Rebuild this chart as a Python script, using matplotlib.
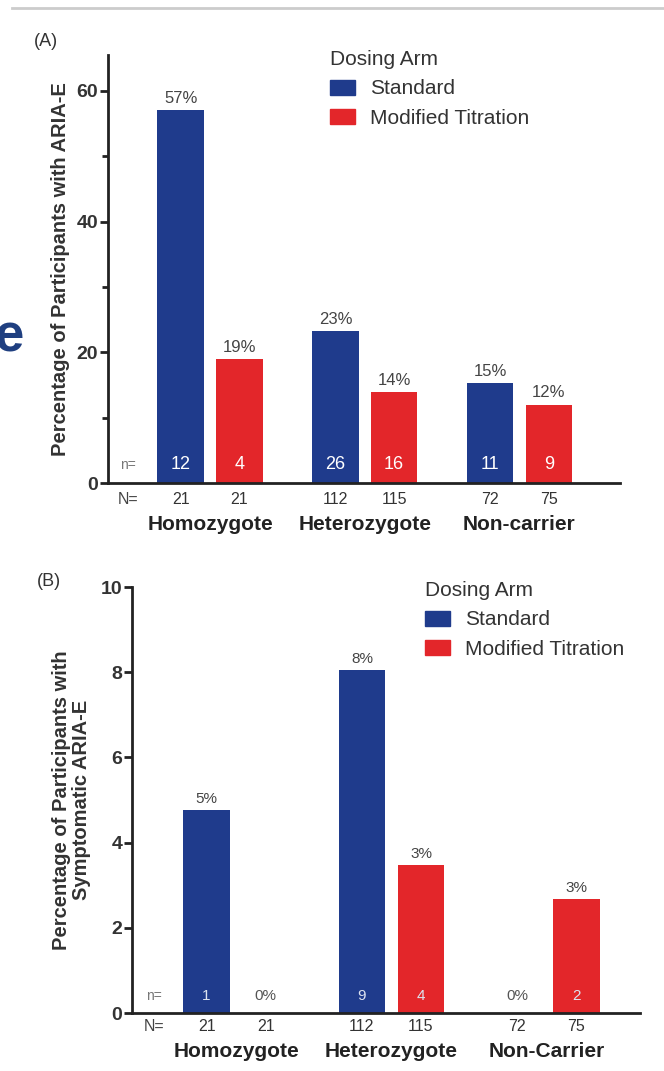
import matplotlib
matplotlib.use("Agg")
import matplotlib.pyplot as plt
from matplotlib.patches import Patch
import numpy as np

plt.rcParams['font.family'] = ['Liberation Sans', 'DejaVu Sans']

arms = ['Standard', 'Modified Titration']
colors = ['#1f3b8c', '#e3262a']

# panel A - any ARIA-E
cats_a = ['Homozygote', 'Heterozygote', 'Non-carrier']
std_a = [57.1, 23.2, 15.3]
mod_a = [19.0, 13.9, 12.0]
pct_std_a = ['57%', '23%', '15%']
pct_mod_a = ['19%', '14%', '12%']
n_std_a = ['12', '26', '11']
n_mod_a = ['4', '16', '9']
N_std_a = ['21', '112', '72']
N_mod_a = ['21', '115', '75']

# panel B - symptomatic ARIA-E
cats_b = ['Homozygote', 'Heterozygote', 'Non-Carrier']
std_b = [4.76, 8.04, 0.0]
mod_b = [0.0, 3.48, 2.67]
pct_std_b = ['5%', '8%', '0%']
pct_mod_b = ['0%', '3%', '3%']
n_std_b = ['1', '9', '']
n_mod_b = ['', '4', '2']
N_std_b = ['21', '112', '72']
N_mod_b = ['21', '115', '75']

W, H = 664, 1071
fig = plt.figure(figsize=(W / 100, H / 100), dpi=100)


def box(l, r, t, b):
    return [l / W, 1 - b / H, (r - l) / W, (b - t) / H]


def panel(ax, cats, std, mod, pct_s, pct_m, n_s, n_m, N_s, N_m, ylim, yticks,
          xlim, pctsize, nsize, ncol, Nsize, catpad, npos, Npos):
    x = np.arange(len(cats))
    off, w = 0.19, 0.30
    ax.bar(x - off, std, w, color=colors[0])
    ax.bar(x + off, mod, w, color=colors[1])
    ax.set_xlim(*xlim)
    ax.set_ylim(*ylim)
    ax.set_yticks(yticks)
    for s in ['top', 'right']:
        ax.spines[s].set_visible(False)
    for s in ['left', 'bottom']:
        ax.spines[s].set_linewidth(2)
        ax.spines[s].set_color('#222222')
    ax.tick_params(axis='y', width=2, length=6, color='#222222',
                   labelsize=14, labelcolor='#333333', pad=1)
    for lab in ax.get_yticklabels():
        lab.set_fontweight('bold')
    ax.set_xticks(x)
    ax.set_xticklabels(cats, fontsize=15, fontweight='bold', color='#222222')
    ax.tick_params(axis='x', length=0, pad=catpad)

    for xs, vals, pcts, ns, Ns in [(x - off, std, pct_s, n_s, N_s),
                                   (x + off, mod, pct_m, n_m, N_m)]:
        for xi, v, p, nn, NN in zip(xs, vals, pcts, ns, Ns):
            if v > 0:
                ax.annotate(p, (xi, v), xytext=(0, 3), textcoords='offset points',
                            ha='center', va='bottom', fontsize=pctsize, color='#444444')
                ax.annotate(nn, (xi, 0), xytext=(0, npos), textcoords='offset points',
                            ha='center', va='center', fontsize=nsize, color=ncol)
            else:
                ax.annotate(p, (xi, 0), xytext=(0, npos), textcoords='offset points',
                            ha='center', va='center', fontsize=pctsize, color='#555555')
            ax.annotate(NN, (xi, 0), xytext=(0, Npos), textcoords='offset points',
                        ha='center', va='center', fontsize=Nsize, color='#333333')
    ax.annotate('n=', (-0.53, 0), xytext=(0, npos), textcoords='offset points',
                ha='center', va='center', fontsize=10, color='#777777')
    ax.annotate('N=', (-0.53, 0), xytext=(0, Npos), textcoords='offset points',
                ha='center', va='center', fontsize=Nsize, color='#444444')


axA = fig.add_axes(box(108, 620, 55, 483))
panel(axA, cats_a, std_a, mod_a, pct_std_a, pct_mod_a, n_std_a, n_mod_a,
      N_std_a, N_mod_a, (0, 65.5), [0, 20, 40, 60], (-0.66, 2.65),
      12, 13, 'white', 11.5, 23, 13, -12)
axA.set_yticks([10, 30, 50], minor=True)
axA.tick_params(axis='y', which='minor', width=2, length=4, color='#222222')
axA.set_ylabel('Percentage of Participants with ARIA-E', fontsize=14.5,
               fontweight='bold', color='#333333', labelpad=5)

axB = fig.add_axes(box(132, 640, 587, 1013))
panel(axB, cats_b, std_b, mod_b, pct_std_b, pct_mod_b, n_std_b, n_mod_b,
      N_std_b, N_mod_b, (0, 10), [0, 2, 4, 6, 8, 10], (-0.67, 2.6),
      11, 11, '#dde3f0', 11.5, 21, 12, -10)
axB.set_ylabel('Percentage of Participants with\nSymptomatic ARIA-E', fontsize=14.5,
               fontweight='bold', color='#333333', labelpad=7, linespacing=1.05)

handles = [Patch(color=colors[0], label=arms[0]), Patch(color=colors[1], label=arms[1])]
for bx, by in [(330, 50), (425, 581)]:
    lg = fig.legend(handles=handles, title='Dosing Arm', loc='upper left',
                    bbox_to_anchor=(bx / W, 1 - by / H), frameon=False,
                    fontsize=15, title_fontsize=15, handlelength=1.2,
                    handleheight=0.75, handletextpad=0.7, labelspacing=0.5,
                    borderpad=0, borderaxespad=0, alignment='left')
    for t in lg.get_texts():
        t.set_color('#333333')
    lg.get_title().set_color('#333333')

fig.text(34 / W, 1 - 42 / H, '(A)', fontsize=13, color='#333333', va='center')
fig.text(37 / W, 1 - 582 / H, '(B)', fontsize=13, color='#333333', va='center')

# slide remnants: top rule and a clipped letter at the left edge
fig.add_artist(plt.Line2D([12 / W, 1], [1 - 8 / H, 1 - 8 / H], color='#cccccc', lw=2))
fig.text(-5 / W, 1 - 338 / H, 'e', fontsize=38, fontweight='bold',
         color='#1f3f80', va='center')

fig.savefig('out.png', dpi=100)
